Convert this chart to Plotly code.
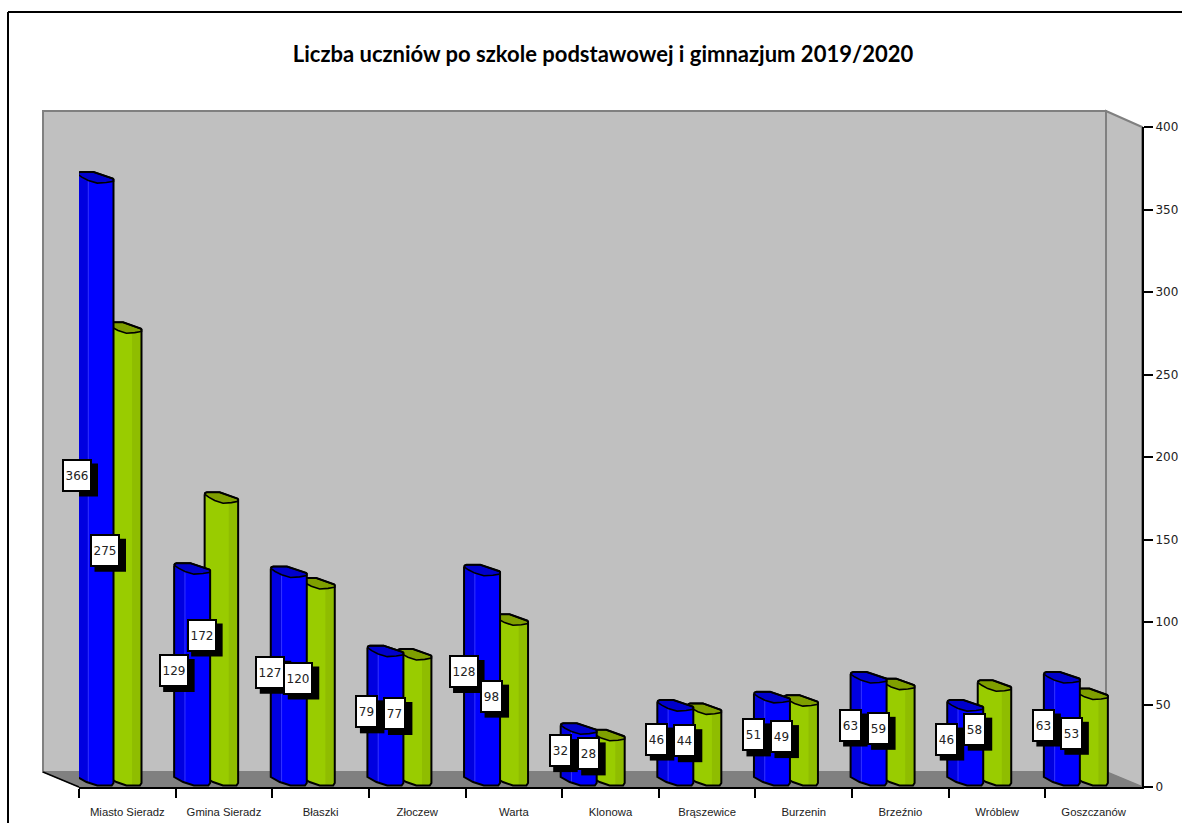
import plotly.graph_objects as go

categories = ["Miasto Sieradz", "Gmina Sieradz", "Błaszki", "Złoczew", "Warta", "Klonowa",
              "Brąszewice", "Burzenin", "Brzeźnio", "Wróblew", "Goszczanów"]
primary = [366, 129, 127, 79, 128, 32, 46, 51, 63, 46, 63]
lower_secondary = [275, 172, 120, 77, 98, 28, 44, 49, 59, 58, 53]
y_ticks = [0, 50, 100, 150, 200, 250, 300, 350, 400]

W, H = 1182, 823
L, R, T, B = 79, 1142, 127, 787
PX_X = (R - L) / 11
PX_Y = (B - T) / 400
BLUE, BLUE_D, BLUE_CAP, BLUE_L = "#0000FF", "#0000E0", "#0000CC", "#3333FF"
GREEN, GREEN_D, GREEN_CAP = "#99CC00", "#8FBD00", "#7F9F00"

TOP = [(0, 9), (.02, 10.3), (.07, 11), (.45, 11), (.98, 4.6), (1, 3.8)]
FRONT = [(1, 1.8), (.8, .6), (.55, 0), (.3, 2.7), (.12, 6), (0, 9)]
FOOT = [(0, 10), (.25, 5), (.55, 1.5), (.95, 1.5), (1, 4)]


def px(xp, yp):
    return (xp - L) / (R - L), (B - yp) / (B - T)


def path(points):
    p = [px(*q) for q in points]
    return "M " + " L ".join(f"{a:.5f} {b:.5f}" for a, b in p) + " Z"


def poly_shape(points, fill, line="#808080", width=2):
    return dict(type="path", xref="paper", yref="paper", path=path(points), fillcolor=fill,
                line=dict(color=line, width=width), layer="below")


def build(values, off, width):
    """Cylinder outlines, in axis units, from each value."""
    bx, by, cx, cy, meta = [], [], [], [], []
    u = 1 / PX_Y
    for i, v in enumerate(values):
        x0 = i + off / PX_X
        w = width / PX_X
        for f, yy in [(f, v + h * u) for f, h in TOP] + [(f, h * u) for f, h in reversed(FOOT)] + [(0, v + 9 * u)]:
            bx.append(x0 + f * w); by.append(yy)
        bx.append(None); by.append(None)
        for f, h in TOP + FRONT:
            cx.append(x0 + f * w); cy.append(v + h * u)
        cx.append(None); cy.append(None)
        meta.append((x0, w, v, u))
    return bx, by, cx, cy, meta


def stripe(meta, f0, f1):
    xs, ys = [], []
    for x0, w, v, u in meta:
        if f0 > .5:
            pts = [(f0, v + 1 * u), (f1, v + 2 * u), (f1, 4 * u), (f0, 1.5 * u)]
        else:
            pts = [(f0, v + 8 * u), (f1, v + 3 * u), (f1, 5 * u), (f0, 9.5 * u)]
        for f, yy in pts + pts[:1]:
            xs.append(x0 + f * w); ys.append(yy)
        xs.append(None); ys.append(None)
    return xs, ys


def add_cyl(fig, values, off, width, body, dark, cap, name, f0, f1, hl=None):
    bx, by, cx, cy, meta = build(values, off, width)
    fig.add_trace(go.Scatter(x=bx, y=by, mode="lines", fill="toself", fillcolor=body, cliponaxis=False,
                             line=dict(color=body, width=0), name=name, hoverinfo="skip"))
    sx, sy = stripe(meta, f0, f1)
    fig.add_trace(go.Scatter(x=sx, y=sy, mode="lines", fill="toself", fillcolor=dark, cliponaxis=False,
                             line=dict(color=dark, width=0), hoverinfo="skip"))
    if hl:
        lx, ly = [], []
        for x0, w, v, u in meta:
            lx += [x0 + f1 * w, x0 + f1 * w, None]
            ly += [v + 3 * u, 5 * u, None]
        fig.add_trace(go.Scatter(x=lx, y=ly, mode="lines", cliponaxis=False,
                                 line=dict(color=hl, width=1), hoverinfo="skip"))
    fig.add_trace(go.Scatter(x=cx, y=cy, mode="lines", fill="toself", fillcolor=cap, cliponaxis=False,
                             line=dict(color="black", width=1.6), hoverinfo="skip"))
    fig.add_trace(go.Scatter(x=bx, y=by, mode="lines", cliponaxis=False,
                             line=dict(color="black", width=2), name=name, hoverinfo="skip"))


fig = go.Figure()
add_cyl(fig, lower_secondary, 29, 33.5, GREEN, GREEN_D, GREEN_CAP, "gimnazjum", .72, 1.0)
add_cyl(fig, primary, -1.5, 36, BLUE, BLUE_D, BLUE_CAP, "szkoła podstawowa", 0.0, .3, BLUE_L)

shapes = [
    poly_shape([(43, 111), (1106, 111), (1106, 772), (43, 772)], "#C0C0C0"),
    poly_shape([(1106, 111), (1142, 127), (1142, 787), (1106, 772)], "#C0C0C0"),
    poly_shape([(43, 772), (1106, 772), (1142, 787), (79, 787)], "#808080", "#808080", 1),
    dict(type="line", xref="paper", yref="paper", x0=px(43, 0)[0], y0=px(0, 772)[1], x1=px(79, 0)[0],
         y1=px(0, 787)[1], line=dict(color="black", width=1.5), layer="below"),
    dict(type="line", xref="paper", yref="paper", x0=px(8, 0)[0], y0=px(0, 12)[1], x1=px(1190, 0)[0],
         y1=px(0, 12)[1], line=dict(color="black", width=2), layer="below"),
    dict(type="line", xref="paper", yref="paper", x0=px(8, 0)[0], y0=px(0, 12)[1], x1=px(8, 0)[0],
         y1=px(0, 830)[1], line=dict(color="black", width=2), layer="below"),
]

BOX_H = 33


def labels(values, off):
    out = []
    for i, v in enumerate(values):
        bw = 30 if v >= 100 else 23
        shapes.append(dict(type="rect", xref="x", yref="y", xsizemode="pixel", ysizemode="pixel",
                           xanchor=i, yanchor=v / 2, x0=off - bw / 2 + 4.5, x1=off + bw / 2 + 6,
                           y0=10 - 5 - BOX_H / 2, y1=10 - 5 + BOX_H / 2,
                           fillcolor="black", line=dict(width=0), layer="above"))
        out.append(dict(x=i, y=v / 2, xref="x", yref="y", xshift=off, yshift=10, text=str(v), showarrow=False,
                        width=bw - 4, height=BOX_H - 4, bgcolor="white", bordercolor="black",
                        borderwidth=2, borderpad=0, font=dict(family="DejaVu Sans", size=12, color="#222")))
    return out


blue_labels = labels(primary, -2)
green_labels = labels(lower_secondary, 26)
annots = green_labels + blue_labels

fig.update_layout(
    width=W, height=H, autosize=False, showlegend=False,
    margin=dict(l=L, r=W - R, t=T, b=H - B, pad=0),
    paper_bgcolor="white", plot_bgcolor="rgba(0,0,0,0)",
    title=dict(text="<b>Liczba uczniów po szkole podstawowej i gimnazjum 2019/2020</b>",
               x=603 / W, y=1 - 54 / H, xref="container", yref="container",
               xanchor="center", yanchor="middle", automargin=False,
               font=dict(family="Lato", size=22, color="black")),
    xaxis=dict(range=[0, 11], tickmode="array", tickvals=[i + .5 for i in range(len(categories))],
               ticktext=categories, ticks="", showgrid=False, zeroline=False, showline=True, automargin=False,
               linecolor="black", linewidth=2, ticklabelstandoff=13,
               tickfont=dict(family="Liberation Sans", size=11.3, color="#222"), tickangle=0, fixedrange=True,
               minor=dict(tickmode="array", tickvals=list(range(len(categories))), ticks="outside",
                          ticklen=9, tickwidth=2, tickcolor="black", showgrid=False)),
    yaxis=dict(range=[0, 400], side="right", tickmode="array", tickvals=y_ticks, ticks="outside", ticklen=9,
               tickwidth=2, tickcolor="black", showgrid=False, zeroline=False, showline=True, linecolor="black",
               linewidth=2, automargin=False, tickfont=dict(family="DejaVu Sans", size=12, color="#222"),
               fixedrange=True),
    shapes=shapes, annotations=annots,
)

fig.write_html("out.html", config=dict(displayModeBar=False),
               post_script="document.body.style.margin='0';document.body.style.overflow='hidden';")
